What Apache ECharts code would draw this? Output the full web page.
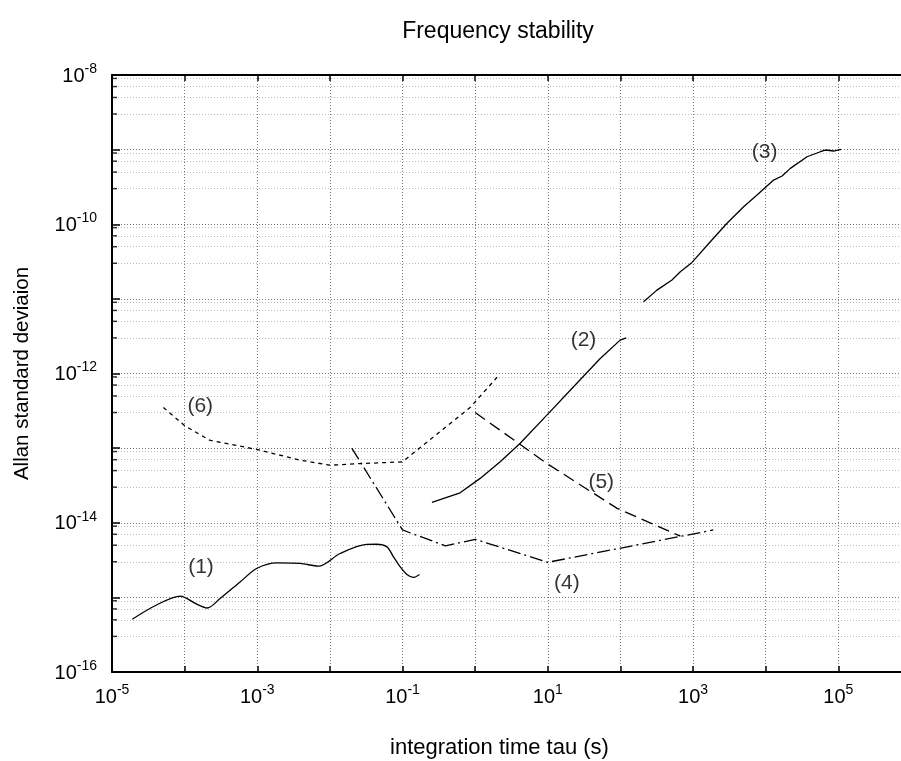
<!DOCTYPE html>
<html><head><meta charset="utf-8">
<script src="https://cdn.jsdelivr.net/npm/echarts@6/dist/echarts.min.js"></script>
<style>html,body{margin:0;padding:0;background:#fff}#c{width:901px;height:761px}</style>
</head><body><div id="c"></div>
<script>
// ---- data ----
const c1x = [1.9e-5, 4.1e-5, 8.7e-5, 1.47e-4, 2.04e-4, 3.1e-4, 5.8e-4, 9.8e-4, 1.86e-3, 3.9e-3, 6.95e-3, 1.38e-2, 3.2e-2, 4.4e-2, 6.1e-2, 7.5e-2, 9.3e-2, 0.115, 0.141, 0.171];
const c1y = [5.1e-16, 7.9e-16, 1.04e-15, 8.1e-16, 7.2e-16, 9.7e-16, 1.61e-15, 2.44e-15, 2.9e-15, 2.85e-15, 2.62e-15, 3.87e-15, 5.12e-15, 5.15e-15, 4.75e-15, 3.49e-15, 2.56e-15, 2.03e-15, 1.85e-15, 2.03e-15];
const c2x = [0.254, 0.62, 1.17, 2.21, 4.17, 9.7, 22.6, 52.7, 99, 120];
const c2y = [1.87e-14, 2.52e-14, 3.93e-14, 6.55e-14, 1.16e-13, 2.77e-13, 6.64e-13, 1.59e-12, 2.8e-12, 3.0e-12];
const c3x = [208, 318, 512, 667, 966, 1726, 2931, 4966, 7586, 12850, 16790, 21810, 37070, 56490, 66220, 86140, 108900];
const c3y = [9.14e-12, 1.31e-11, 1.79e-11, 2.31e-11, 3.08e-11, 5.82e-11, 1.03e-10, 1.72e-10, 2.46e-10, 3.91e-10, 4.43e-10, 5.61e-10, 8.03e-10, 9.37e-10, 9.88e-10, 9.58e-10, 1.01e-9];
const c4x = [0.02, 0.1, 0.39, 1, 10, 1900];
const c4y = [1.0e-13, 8.0e-15, 4.9e-15, 6.0e-15, 2.95e-15, 8.0e-15];
const c5x = [1, 10, 90, 670];
const c5y = [3.0e-13, 6.1e-14, 1.56e-14, 6.6e-15];
const c6x = [5.1e-5, 1.0e-4, 2.2e-4, 9.8e-4, 3.9e-3, 0.01, 0.026, 0.1, 0.85, 2.0];
const c6y = [3.5e-13, 2.0e-13, 1.28e-13, 9.6e-14, 6.9e-14, 5.9e-14, 6.2e-14, 6.55e-14, 3.5e-13, 8.9e-13];
const lblText = ['(1)', '(2)', '(3)', '(4)', '(5)', '(6)'];
const lblX = [1.68e-4, 31, 9660, 18.3, 54.4, 1.64e-4];
const lblY = [2.56e-15, 2.8e-12, 9.37e-10, 1.53e-15, 3.53e-14, 3.69e-13];
const xMinExp = -5, xMaxExp = 6, yMinExp = -16, yMaxExp = -8;
const minorMult = [3, 5, 7, 9];
const titleText = 'Frequency stability';
const xName = 'integration time tau (s)';
const yName = 'Allan standard deviaion';

// ---- build ----
const FONT = "'Liberation Sans', Arial, Helvetica, sans-serif";
const zip = (xs, ys) => xs.map((v, i) => [v, ys[i]]);
const xMin = Math.pow(10, xMinExp), xMax = Math.pow(10, xMaxExp);
const minorVals = [];
for (let n = yMinExp; n < yMaxExp; n++) {
  minorMult.forEach(k => minorVals.push(k * Math.pow(10, n)));
}
const rich = {
  b: { fontSize: 20, fontFamily: FONT, color: '#000', lineHeight: 22, verticalAlign: 'bottom' },
  s: { fontSize: 14, fontFamily: FONT, color: '#000', lineHeight: 14, padding: [0, 0, 10, 0], verticalAlign: 'bottom' }
};
const fmt = parity => v => {
  const e = Math.round(Math.log10(v));
  if (Math.abs(e % 2) !== parity) return '';
  return '{b|10}{s|' + e + '}';
};
const gridDot = { color: '#777', type: [1, 2], width: 1 };
const lineBase = (data, type) => ({
  type: 'line', data, symbol: 'none', showSymbol: false, xAxisIndex: 0, yAxisIndex: 0,
  lineStyle: { color: '#000', width: 1.3, type: type || 'solid' }, silent: true, z: 3
});

const chart = echarts.init(document.getElementById('c'), null, { renderer: 'canvas' });
chart.setOption({
  animation: false,
  backgroundColor: '#fff',
  textStyle: { fontFamily: FONT },
  title: {
    text: titleText, left: 493, top: 15, textAlign: 'center',
    textStyle: { fontSize: 23, fontWeight: 'normal', color: '#000', fontFamily: FONT }
  },
  grid: { left: 112, right: -10, top: 75, bottom: 89, containLabel: false, outerBoundsMode: 'none' },
  xAxis: [{
    type: 'log', logBase: 10, min: xMin, max: xMax, interval: 1,
    position: 'bottom',
    name: xName, nameLocation: 'middle', nameGap: 65,
    nameTextStyle: { fontSize: 22, color: '#000', fontFamily: FONT, padding: [0, 24, 0, 0] },
    axisLine: { lineStyle: { color: '#000', width: 2 } },
    axisTick: { inside: true, length: 6, lineStyle: { color: '#000', width: 1.5 } },
    splitLine: { show: true, lineStyle: gridDot },
    axisLabel: { formatter: fmt(1), rich, margin: 13, color: '#000' }
  }, {
    type: 'log', logBase: 10, min: xMin, max: xMax, interval: 1,
    position: 'top',
    axisLine: { lineStyle: { color: '#000', width: 2 } },
    axisTick: { inside: true, length: 6, lineStyle: { color: '#000', width: 1.5 } },
    splitLine: { show: false }, axisLabel: { show: false }
  }],
  yAxis: [{
    type: 'log', logBase: 10, min: Math.pow(10, yMinExp), max: Math.pow(10, yMaxExp), interval: 1,
    position: 'left',
    name: yName, nameLocation: 'middle', nameGap: 79,
    nameTextStyle: { fontSize: 20.5, color: '#000', fontFamily: FONT },
    axisLine: { lineStyle: { color: '#000', width: 2 } },
    axisTick: { inside: true, length: 8, lineStyle: { color: '#000', width: 1.5 } },
    splitLine: { show: true, lineStyle: gridDot },
    axisLabel: { formatter: fmt(0), rich, margin: 15, color: '#000' }
  }],
  series: [
    {
      type: 'lines', coordinateSystem: 'cartesian2d', xAxisIndex: 0, yAxisIndex: 0,
      silent: true, z: 1, lineStyle: gridDot,
      data: minorVals.map(v => ({ coords: [[xMin, v], [xMax, v]] }))
    },
    {
      type: 'scatter', xAxisIndex: 0, yAxisIndex: 0, silent: true, z: 5,
      symbol: 'rect', symbolSize: [5, 1.5], symbolOffset: [2.5, 0],
      itemStyle: { color: '#000' },
      data: minorVals.map(v => [xMin, v])
    },
    Object.assign(lineBase(zip(c1x, c1y)), { smooth: 0.3 }),
    lineBase(zip(c2x, c2y)),
    lineBase(zip(c3x, c3y)),
    lineBase(zip(c4x, c4y), [13, 4, 2, 4]),
    lineBase(zip(c5x, c5y), [12, 6]),
    lineBase(zip(c6x, c6y), [4, 4]),
    {
      type: 'scatter', symbolSize: 0, silent: true, z: 4,
      data: lblText.map((t, i) => ({ value: [lblX[i], lblY[i]], name: t })),
      label: { show: true, position: 'inside', formatter: p => p.name, fontSize: 21, color: '#000', fontFamily: FONT }
    }
  ]
});
</script></body></html>
